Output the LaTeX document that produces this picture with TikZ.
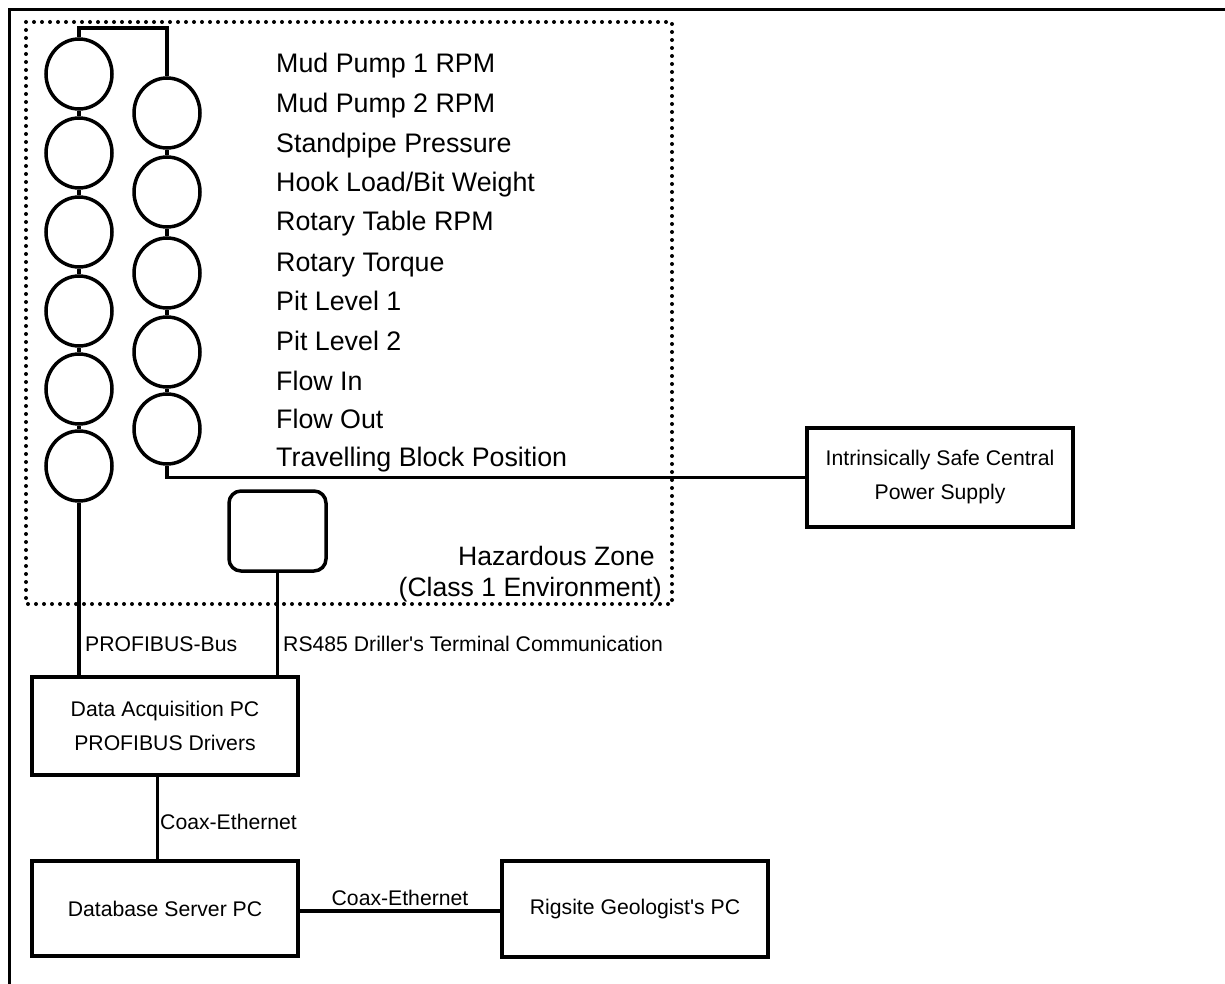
\documentclass[tikz,border=0pt]{standalone}
\usepackage{fontspec}
\setmainfont{Liberation Sans}
\usetikzlibrary{shapes.geometric}
\begin{document}
\begin{tikzpicture}[x=1pt,y=-1pt,
  wire/.style={line width=3.5pt},
  gauge/.style={draw,line width=3.5pt,ellipse,minimum width=66pt,minimum height=70pt,inner sep=0pt},
  pcbox/.style={draw,line width=3.5pt,minimum width=266pt,inner sep=0pt,align=center,
     font=\fontsize{21.2}{34}\selectfont},
  biglabel/.style={anchor=base west,inner sep=0pt,font=\fontsize{26.8}{31}\selectfont},
  zonelabel/.style={anchor=base east,inner sep=0pt,font=\fontsize{26.6}{31}\selectfont},
  smalllabel/.style={inner sep=0pt,font=\fontsize{21.2}{25}\selectfont}]
\useasboundingbox (0,0) rectangle (1225,984);
% outer frame
\draw[line width=3pt] (9.5,984) -- (9.5,9.5) -- (1225,9.5);
% hazardous zone
\draw[line width=4pt,line cap=round,dash pattern=on 0pt off 8pt] (26,22) rectangle (672,604);
% left column gauges
\foreach \i/\y in {1/74,2/153,3/232,4/311,5/389,6/466}
  \node[gauge] (L\i) at (79,\y) {};
% right column gauges
\foreach \i/\y in {1/113,2/192,3/273,4/352,5/429}
  \node[gauge] (R\i) at (167,\y) {};
\foreach \a/\b in {1/2,2/3,3/4,4/5,5/6}
  \draw[wire] (L\a.south) -- (L\b.north);
\foreach \a/\b in {1/2,2/3,3/4,4/5}
  \draw[wire] (R\a.south) -- (R\b.north);
\draw[wire] (L1.north) -- ++(0,-9) -| (R1.north);
% terminal
\node[draw,line width=3.5pt,rounded corners=12pt,minimum width=97pt,minimum height=80pt] (term) at (277.5,531) {};
% boxes
\node[pcbox,minimum height=99pt] (ps) at (940,477.5) {Intrinsically Safe Central\\Power Supply};
\node[pcbox,minimum height=98pt] (da) at (165,726) {Data Acquisition PC\\PROFIBUS Drivers};
\node[pcbox,minimum height=95pt] (db) at (165,908.5) {Database Server PC};
\node[pcbox,minimum height=96pt] (rg) at (635,909) {Rigsite Geologist\textquotesingle s PC};
% connectors
\draw[wire] (R5.south) |- (ps.west);
\draw[wire] (L6.south) -- (L6.south |- da.north);
\draw[wire] (term.south) -- (term.south |- da.north);
\draw[wire] ([xshift=-7.5pt]da.south) -- ([xshift=-7.5pt]da.south |- db.north);
\draw[wire] ([yshift=-2.5pt]db.east) -- ([yshift=-2.5pt]db.east -| rg.west);
% sensor labels
\node[biglabel] (s1) at (276,73) {Mud Pump 1 RPM};
\node[biglabel] (s2) at (276,113) {Mud Pump 2 RPM};
\node[biglabel] (s3) at (276,153) {Standpipe Pressure};
\node[biglabel] (s4) at (276,192) {Hook Load/Bit Weight};
\node[biglabel] (s5) at (276,231) {Rotary Table RPM};
\node[biglabel] (s6) at (276,272) {Rotary Torque};
\node[biglabel] (s7) at (276,310) {Pit Level 1};
\node[biglabel] (s8) at (276,350) {Pit Level 2};
\node[biglabel] (s9) at (276,390) {Flow In};
\node[biglabel] (s10) at (276,428) {Flow Out};
\node[biglabel] (s11) at (276,466) {Travelling Block Position};
\node[zonelabel] (hz1) at (655,565) {Hazardous Zone};
\node[zonelabel] (hz2) at (662,596) {(Class 1 Environment)};
% link labels
\node[smalllabel,anchor=base west] (lpb) at (85,651) {PROFIBUS-Bus};
\node[smalllabel,anchor=base west] (lrs) at (283,651) {RS485 Driller\textquotesingle s Terminal Communication};
\node[smalllabel,anchor=base west] (lce1) at (160,829) {Coax-Ethernet};
\node[smalllabel,anchor=base] (lce2) at (400,905) {Coax-Ethernet};
\end{tikzpicture}
\end{document}
